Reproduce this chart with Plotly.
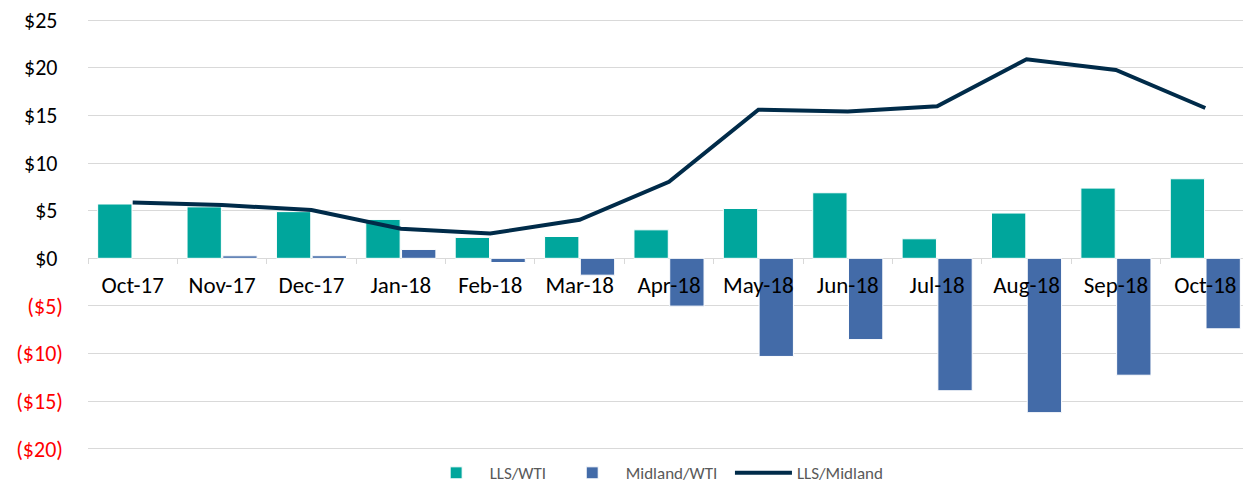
import plotly.graph_objects as go

months = ["Oct-17", "Nov-17", "Dec-17", "Jan-18", "Feb-18", "Mar-18", "Apr-18",
          "May-18", "Jun-18", "Jul-18", "Aug-18", "Sep-18", "Oct-18"]
lls_wti = [5.7, 5.4, 4.9, 4.08, 2.19, 2.29, 2.99, 5.23, 6.88, 2.05, 4.75, 7.37, 8.35]
midland_wti = [None, 0.26, 0.27, 0.93, -0.44, -1.77, -5.02, -10.3, -8.53, -13.9, -16.2, -12.27, -7.4]
lls_midland = [5.85, 5.6, 5.06, 3.1, 2.6, 4.04, 8.04, 15.6, 15.4, 15.95, 20.9, 19.77, 15.78]

y_ticks = [-20, -15, -10, -5, 0, 5, 10, 15, 20, 25]
Y_MIN, Y_MAX = -20.12, 25.12

def fmt(v):
    if v < 0:
        return "<span style='color:#FF0000'>($%d)</span>" % abs(v)
    return "$%d\u2005" % v

FONT = "Calibri, Carlito, Lato, sans-serif"
PAD = "\u00a0\u00a0"

fig = go.Figure()
fig.add_trace(go.Bar(x=months, y=lls_wti, name="LLS/WTI" + PAD,
                     marker=dict(color="#00A69C", line=dict(color="white", width=1))))
fig.add_trace(go.Bar(x=months, y=midland_wti, name="Midland/WTI" + PAD,
                     marker=dict(color="#436BA8", line=dict(color="white", width=1))))
fig.add_trace(go.Scatter(x=months, y=lls_midland, name="LLS/Midland", mode="lines",
                         line=dict(color="#002B49", width=4)))

# page body has an 8px default margin, so the figure is sized/margined to compensate
fig.update_layout(
    width=1243, height=477,
    margin=dict(l=80, r=1, t=11, b=35, autoexpand=False),
    paper_bgcolor="white", plot_bgcolor="white",
    barmode="group", bargap=0.2, bargroupgap=0.04,
    font=dict(family=FONT, size=22, color="#000000"),
    showlegend=True,
    legend=dict(orientation="h", x=0.288, xanchor="left", y=-0.054, yanchor="middle",
                font=dict(size=17, color="#595959"), bgcolor="rgba(0,0,0,0)",
                traceorder="normal", itemwidth=57),
    xaxis=dict(type="category", range=[-0.5, 12.5], anchor="free",
               position=(0 - Y_MIN) / (Y_MAX - Y_MIN),
               showline=False, automargin=False,
               ticks="outside", tickson="boundaries", ticklen=5, tickcolor="#D9D9D9",
               showgrid=False, ticklabelstandoff=11,
               tickfont=dict(size=23, color="#000000")),
    yaxis=dict(range=[Y_MIN, Y_MAX], tickvals=y_ticks, ticktext=[fmt(v) for v in y_ticks],
               showgrid=True, gridcolor="#D9D9D9", gridwidth=1, zeroline=True,
               zerolinecolor="#D9D9D9", zerolinewidth=1, showline=False, ticks="",
               automargin=False, ticklabeloverflow="allow",
               ticklabelstandoff=24, tickfont=dict(size=22, color="#000000")),
    shapes=[dict(type="rect", xref="paper", yref="paper", x0=0.278, x1=0.8675,
                 y0=-0.2, y1=0.02, fillcolor="white", line=dict(width=0), layer="between")],
)

fig.write_html("out.html")
